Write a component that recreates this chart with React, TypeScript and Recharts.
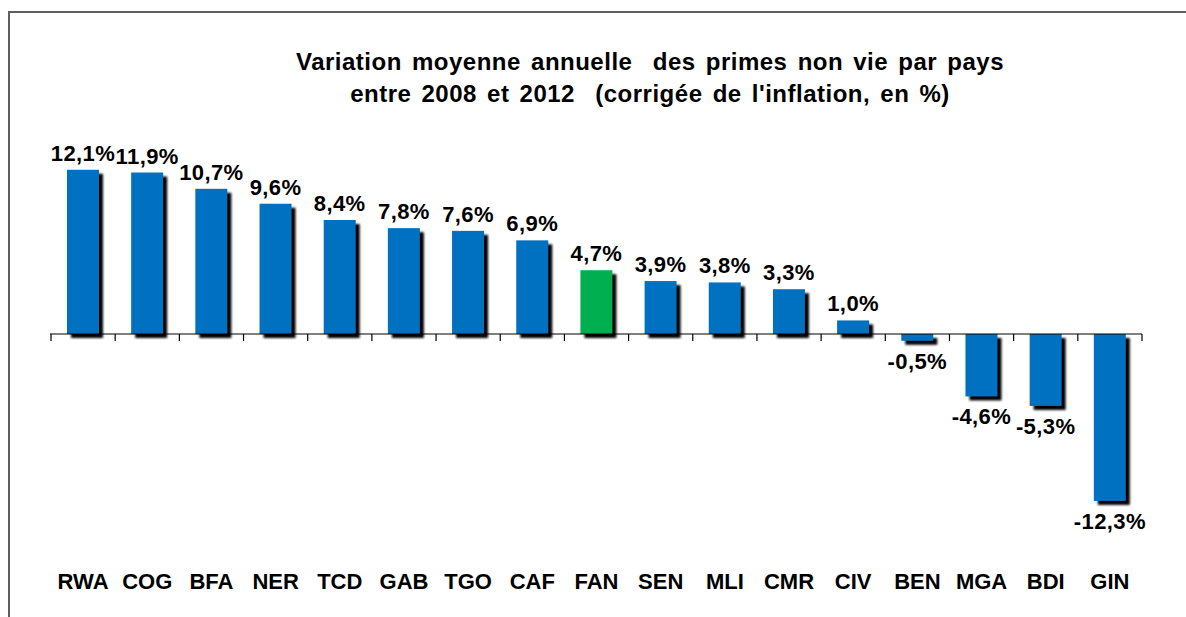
import { BarChart, Bar, XAxis, YAxis, Cell, LabelList, ReferenceLine } from "recharts";

const countries = ["RWA", "COG", "BFA", "NER", "TCD", "GAB", "TGO", "CAF", "FAN", "SEN", "MLI", "CMR", "CIV", "BEN", "MGA", "BDI", "GIN"];
const variations = [12.1, 11.9, 10.7, 9.6, 8.4, 7.8, 7.6, 6.9, 4.7, 3.9, 3.8, 3.3, 1.0, -0.5, -4.6, -5.3, -12.3];
const highlighted = "FAN";
const titleLines = [
  "Variation moyenne annuelle  des primes non vie par pays",
  "entre 2008 et 2012  (corrigée de l'inflation, en %)",
];

const BLUE = "#0070C0";
const GREEN = "#00B050";
const FONT = "'Liberation Sans', Arial, sans-serif";

const data = countries.map((c, i) => ({ pays: c, valeur: variations[i] }));

const fmt = (v: number) => v.toFixed(1).replace(".", ",") + "%";

const ShadowBar = (props: any) => {
  const { x, y, width, height, fill } = props;
  const top = Math.min(y, y + height);
  const h = Math.abs(height);
  return (
    <g>
      <rect x={x + 4} y={top + 4} width={width} height={h} fill="#000" filter="url(#ombre)" />
      <rect x={x} y={top} width={width} height={h} fill={fill} />
    </g>
  );
};

const ValueLabel = (props: any) => {
  const { x, y, width, height, value } = props;
  const cx = x + width / 2;
  const top = Math.min(y, y + height);
  const bottom = Math.max(y, y + height);
  const ty = value >= 0 ? top - 9 : bottom + 28;
  return (
    <text x={cx} y={ty} textAnchor="middle" fontFamily={FONT} fontWeight="bold" fontSize={22} letterSpacing={0.4} fill="#000">
      {fmt(value)}
    </text>
  );
};

const CountryTick = (props: any) => {
  const { x, y, payload } = props;
  return (
    <text x={x} y={y} dy={65} textAnchor="middle" fontFamily={FONT} fontWeight="bold" fontSize={22} fill="#000">
      {payload.value}
    </text>
  );
};

const ZeroAxis = (props: any) => {
  const { x1, y1, x2 } = props;
  const n = countries.length;
  const step = (x2 - x1) / n;
  return (
    <g>
      <line x1={x1 - 1} y1={y1} x2={x2} y2={y1} stroke="#000" strokeWidth={1.2} />
      {Array.from({ length: n + 1 }, (_, i) => (
        <line key={i} x1={x1 + i * step} y1={y1} x2={x1 + i * step} y2={y1 + 7} stroke="#000" strokeWidth={1.2} />
      ))}
    </g>
  );
};

export default function App() {
  return (
    <div style={{ position: "fixed", left: 0, top: 0, width: 1186, height: 617, overflow: "hidden", background: "#fff" }}>
      <div
        style={{
          position: "absolute",
          left: 8,
          top: 11,
          width: 1400,
          height: 800,
          borderTop: "2px solid #5f5f5f",
          borderLeft: "2px solid #5f5f5f",
        }}
      />
      <div
        style={{
          position: "absolute",
          left: 150,
          top: 46,
          width: 1000,
          textAlign: "center",
          fontFamily: FONT,
          fontWeight: "bold",
          fontSize: 24,
          letterSpacing: 0.5,
          wordSpacing: 3,
          lineHeight: "32px",
          whiteSpace: "pre",
          color: "#000",
        }}
      >
        {titleLines.map((l, i) => (
          <div key={i}>{l}</div>
        ))}
      </div>
      <div style={{ position: "absolute", left: 0, top: 0 }}>
        <BarChart width={1186} height={617} data={data} margin={{ top: 144, right: 44, bottom: 33, left: 51 }} barSize={32}>
          <defs>
            <filter id="ombre" x="-20%" y="-20%" width="140%" height="140%">
              <feGaussianBlur stdDeviation="0.8" />
            </filter>
          </defs>
          <YAxis hide domain={[-14, 14]} />
          <XAxis
            dataKey="pays"
            height={60}
            axisLine={false}
            tickLine={false}
            tickSize={0}
            tickMargin={0}
            interval={0}
            tick={<CountryTick />}
          />
          <Bar dataKey="valeur" isAnimationActive={false} shape={<ShadowBar />}>
            {data.map((d) => (
              <Cell key={d.pays} fill={d.pays === highlighted ? GREEN : BLUE} />
            ))}
            <LabelList dataKey="valeur" content={<ValueLabel />} />
          </Bar>
          <ReferenceLine y={0} ifOverflow="visible" shape={<ZeroAxis />} />
        </BarChart>
      </div>
    </div>
  );
}
